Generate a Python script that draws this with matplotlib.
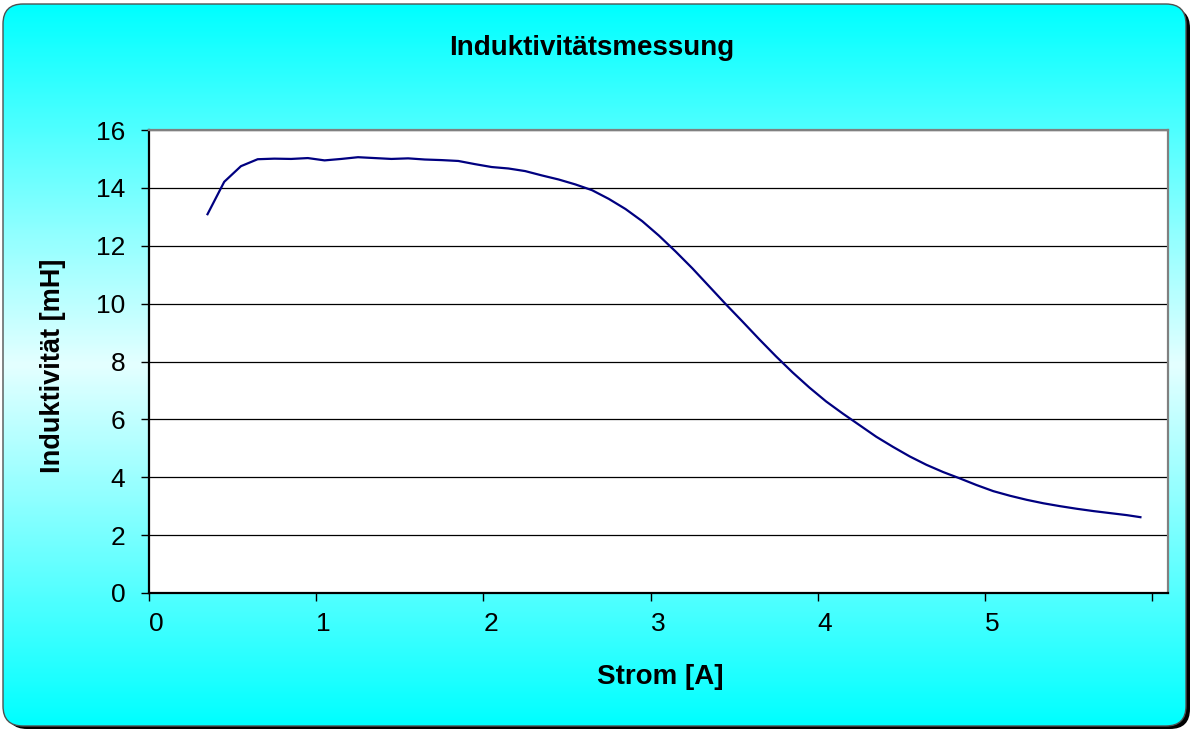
import numpy as np
import matplotlib
matplotlib.use("Agg")
import matplotlib.pyplot as plt
from matplotlib.patches import FancyBboxPatch
from matplotlib.colors import LinearSegmentedColormap

plt.rcParams['font.family'] = ['Liberation Sans', 'DejaVu Sans']

# measured data: current [A] vs inductance [mH]
strom = [0.35, 0.45, 0.55, 0.65, 0.75, 0.85, 0.95, 1.05, 1.15, 1.25,
         1.35, 1.45, 1.55, 1.65, 1.75, 1.85, 1.95, 2.05, 2.15, 2.25,
         2.35, 2.45, 2.55, 2.65, 2.75, 2.85, 2.95, 3.05, 3.15, 3.25,
         3.35, 3.45, 3.55, 3.65, 3.75, 3.85, 3.95, 4.05, 4.15, 4.25,
         4.35, 4.45, 4.55, 4.65, 4.75, 4.85, 4.95, 5.05, 5.15, 5.25,
         5.35, 5.45, 5.55, 5.65, 5.75, 5.85, 5.93]
induktivitaet = [13.09, 14.21, 14.75, 14.99, 15.01, 15.00, 15.03, 14.95, 15.00, 15.06,
                 15.03, 15.00, 15.02, 14.98, 14.96, 14.93, 14.82, 14.72, 14.67, 14.58,
                 14.43, 14.29, 14.12, 13.92, 13.62, 13.27, 12.85, 12.35, 11.80, 11.22,
                 10.60, 9.98, 9.38, 8.77, 8.18, 7.62, 7.10, 6.62, 6.20, 5.80,
                 5.40, 5.05, 4.72, 4.43, 4.18, 3.96, 3.73, 3.52, 3.36, 3.22,
                 3.10, 3.00, 2.91, 2.83, 2.76, 2.69, 2.62]

x_ticks = [0, 1, 2, 3, 4, 5, 6]
x_ticklabels = ['0', '1', '2', '3', '4', '5', '']
y_ticks = [0, 2, 4, 6, 8, 10, 12, 14, 16]

W, H = 1192, 731
fig = plt.figure(figsize=(W / 100, H / 100), dpi=100)
fig.patch.set_facecolor('white')

# background: rounded box with vertical cyan gradient and shadow
bg = fig.add_axes([0, 0, 1, 1])
bg.set_xlim(0, W)
bg.set_ylim(H, 0)
bg.axis('off')

shadow = FancyBboxPatch((7, 8), 1183, 721, boxstyle="round,pad=0,rounding_size=20",
                        facecolor='black', edgecolor='none', zorder=0)
bg.add_patch(shadow)
box = FancyBboxPatch((3, 4), 1183, 722, boxstyle="round,pad=0,rounding_size=20",
                     facecolor='none', edgecolor='none', zorder=0)
bg.add_patch(box)
cmap = LinearSegmentedColormap.from_list('bg', ['#00ffff', '#e4ffff', '#00ffff'])
grad = np.linspace(0, 1, 400).reshape(-1, 1)
im = bg.imshow(grad, cmap=cmap, aspect='auto', extent=[3, 1186, 726, 4],
               interpolation='bilinear', zorder=1)
im.set_clip_path(box)
border = FancyBboxPatch((3, 4), 1183, 722, boxstyle="round,pad=0,rounding_size=20",
                        facecolor='none', edgecolor='#505050', linewidth=1.0, zorder=2)
bg.add_patch(border)

# plot area
ax = fig.add_axes([149 / W, 1 - 593 / H, 1019 / W, 463 / H])
ax.set_facecolor('white')
ax.plot(strom, induktivitaet, color='#000080', linewidth=1.6, zorder=3)

ax.set_xlim(0, 6.095)
ax.set_ylim(0, 16)
ax.set_xticks(x_ticks)
ax.set_xticklabels(x_ticklabels)
ax.set_yticks(y_ticks)
ax.yaxis.grid(True, color='black', linewidth=0.9)
ax.set_axisbelow(True)

for lbl in ax.get_xticklabels():
    lbl.set_horizontalalignment('left')

ax.tick_params(axis='both', direction='out', length=6, width=1.0, color='black',
               labelsize=19)
ax.tick_params(axis='x', pad=8)
ax.tick_params(axis='y', pad=11)

ax.spines['left'].set_color('black')
ax.spines['bottom'].set_color('black')
ax.spines['left'].set_linewidth(1.6)
ax.spines['bottom'].set_linewidth(1.6)
ax.spines['top'].set_color('#808080')
ax.spines['right'].set_color('#808080')
ax.spines['top'].set_linewidth(1.6)
ax.spines['right'].set_linewidth(1.6)

fig.text(592 / W, 1 - 48 / H, 'Induktivitätsmessung', ha='center', va='center',
         fontsize=20, fontweight='bold')
fig.text(660 / W, 1 - 677 / H, 'Strom [A]', ha='center', va='center',
         fontsize=20, fontweight='bold')
fig.text(53 / W, 1 - 366 / H, 'Induktivität [mH]', ha='center', va='center',
         fontsize=19.5, fontweight='bold', rotation=90)

fig.savefig('out.png', dpi=100)
